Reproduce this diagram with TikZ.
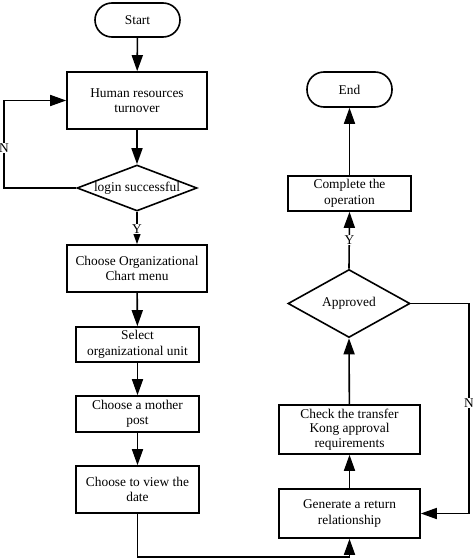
\documentclass[tikz,border=0pt]{standalone}
\usepackage{fontspec}
\setmainfont{Liberation Serif}
\usetikzlibrary{shapes.geometric,arrows.meta}
\begin{document}
\begin{tikzpicture}[x=1pt,y=-1pt,
  every node/.style={font=\fontsize{13.4}{15.5}\selectfont, align=center, inner sep=0pt},
  box/.style={draw, line width=1.6pt, rectangle},
  term/.style={draw, line width=1.6pt, rectangle, rounded corners=17pt},
  dec/.style={draw, line width=1.6pt, diamond},
  conn/.style={line width=1.6pt, -{Triangle[length=16pt,width=11pt]}},
  lab/.style={fill=white, inner sep=1pt}]
\useasboundingbox (0,0) rectangle (473,559);
% left column
\node[term, minimum width=85pt, minimum height=34pt] (start) at (137.5,20) {Start};
\node[box, minimum width=140pt, minimum height=57pt] (hr) at (137,100.5) {Human resources\\turnover};
\node[dec, aspect=2.6, minimum width=120pt, minimum height=46pt] (login) at (137,188) {login successful};
\node[box, minimum width=140pt, minimum height=47pt] (menu) at (137,268.5) {Choose Organizational\\Chart menu};
\node[box, minimum width=123pt, minimum height=35pt] (select) at (137.5,344.5) {Select\\organizational unit};
\node[box, minimum width=123pt, minimum height=36pt] (mother) at (137.5,414) {Choose a mother\\post};
\node[box, minimum width=123pt, minimum height=47pt] (view) at (137.5,489.5) {Choose to view the\\date};
% right column
\node[term, minimum width=85pt, minimum height=35pt] (end) at (349.5,89.5) {End};
\node[box, minimum width=123pt, minimum height=35pt] (complete) at (349.5,193.5) {Complete the\\operation};
\node[dec, aspect=1.8, minimum width=122pt, minimum height=68pt] (approved) at (349,303.5) {Approved};
\node[box, minimum width=141pt, minimum height=49pt, font=\fontsize{13.4}{14.5}\selectfont] (check) at (349.5,429.5) {Check the transfer\\Kong approval\\requirements};
\node[box, minimum width=141pt, minimum height=49pt] (generate) at (349.5,513.5) {Generate a return\\relationship};
% helper coordinates
\coordinate (nl) at (4,188);
\coordinate (bl) at (137.5,557);
\coordinate (nr) at (469,303.5);
% connectors
\draw[conn] (start) -- (hr);
\draw[conn] (hr) -- (login);
\draw[conn] (login.west) -- (nl) |- (hr.west);
\node[lab] (N1) at (4,148) {N};
\draw[conn] (login.south) -- (menu.north);
\node[lab] (Y1) at (137,229) {Y};
\draw[conn] (menu) -- (select);
\draw[conn] (select) -- (mother);
\draw[conn] (mother) -- (view);
\draw[conn] (view.south) -- (bl) -| (generate.south);
\draw[conn] (generate) -- (check);
\draw[conn] (check) -- (approved.south);
\draw[conn] (approved.north) -- (complete.south);
\node[lab] (Y2) at (349.5,240) {Y};
\draw[conn] (complete) -- (end);
\draw[conn] (approved.east) -- (nr) |- (generate.east);
\node[lab] (N2) at (469,403) {N};
\end{tikzpicture}
\end{document}
